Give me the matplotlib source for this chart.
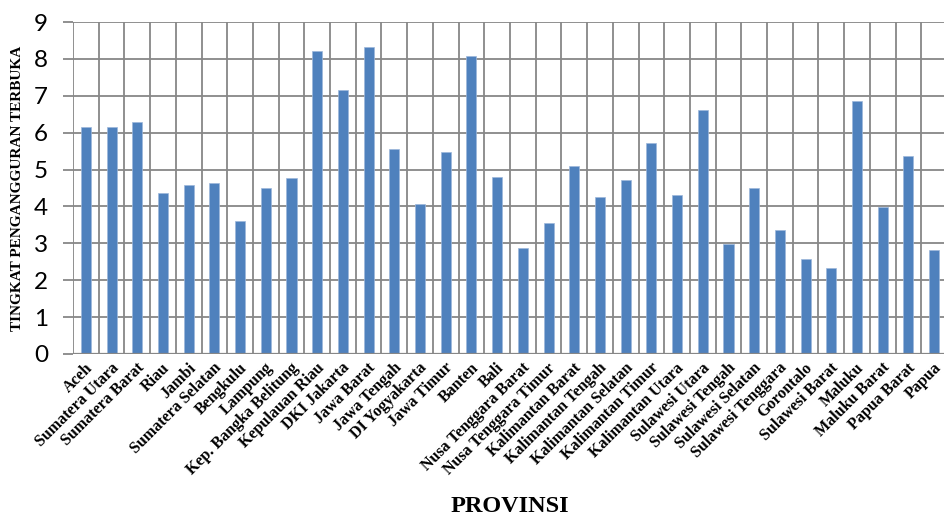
import numpy as np
import matplotlib.pyplot as plt
from matplotlib.transforms import ScaledTranslation

# Tingkat pengangguran terbuka per provinsi
provinces = [
    "Aceh", "Sumatera Utara", "Sumatera Barat", "Riau", "Jambi",
    "Sumatera Selatan", "Bengkulu", "Lampung", "Kep. Bangka Belitung",
    "Kepulauan Riau", "DKI Jakarta", "Jawa Barat", "Jawa Tengah",
    "DI Yogyakarta", "Jawa Timur", "Banten", "Bali", "Nusa Tenggara Barat",
    "Nusa Tenggara Timur", "Kalimantan Barat", "Kalimantan Tengah",
    "Kalimantan Selatan", "Kalimantan Timur", "Kalimantan Utara",
    "Sulawesi Utara", "Sulawesi Tengah", "Sulawesi Selatan",
    "Sulawesi Tenggara", "Gorontalo", "Sulawesi Barat", "Maluku",
    "Maluku Barat", "Papua Barat", "Papua",
]
tpt = [
    6.15, 6.15, 6.28, 4.37, 4.58, 4.63, 3.60, 4.51, 4.76, 8.22,
    7.17, 8.31, 5.57, 4.06, 5.48, 8.08, 4.79, 2.87, 3.54, 5.10,
    4.25, 4.73, 5.71, 4.32, 6.61, 2.99, 4.51, 3.35, 2.57, 2.32,
    6.87, 3.98, 5.37, 2.83,
]
yticks = list(range(0, 10))

grid_color = "#878787"
bar_color = "#4F81BD"
serif = "Liberation Serif"

fig = plt.figure(figsize=(9.45, 5.2), dpi=100)
ax = fig.add_axes([73 / 945, 166 / 520, 874 / 945, 332 / 520])

x = np.arange(len(provinces))
ax.bar(x, tpt, width=0.39, color=bar_color, edgecolor="#9DB7DB",
       linewidth=0.5, zorder=3)

ax.set_xlim(-0.5, len(provinces) - 0.5)
ax.set_ylim(0, 9)

# grid: horizontal at each unit, vertical at category boundaries
ax.set_yticks(yticks)
ax.set_yticklabels([str(v) for v in yticks], fontfamily="Lato", fontsize=17.5)
ax.set_xticks(np.arange(len(provinces) + 1) - 0.5, minor=True)
ax.grid(axis="y", which="major", color=grid_color, linewidth=1.3, zorder=0)
ax.grid(axis="x", which="minor", color=grid_color, linewidth=1.3, zorder=0)
ax.tick_params(axis="y", direction="out", length=7, width=1.3,
               color=grid_color, pad=11)
ax.tick_params(axis="x", which="both", length=0)
for side in ["top", "right", "left", "bottom"]:
    ax.spines[side].set_visible(False)
ax.axhline(0, color=grid_color, linewidth=1.6, zorder=4)

ax.set_xticks(x)
ax.set_xticklabels(provinces, rotation=45, ha="right", va="top",
                   rotation_mode="anchor", fontfamily=serif,
                   fontweight="bold", fontsize=11.5)
shift = ScaledTranslation(-1 / 100, -1 / 100, fig.dpi_scale_trans)
for lbl in ax.get_xticklabels():
    lbl.set_transform(lbl.get_transform() + shift)

ax.set_ylabel("TINGKAT PENGANGGURAN TERBUKA", fontfamily=serif,
              fontweight="bold", fontsize=11, labelpad=7)
fig.text(510 / 945, 1 - 507 / 520, "PROVINSI", ha="center", va="center",
         fontfamily=serif, fontweight="bold", fontsize=17.5)

fig.savefig("out.png", dpi=100)
